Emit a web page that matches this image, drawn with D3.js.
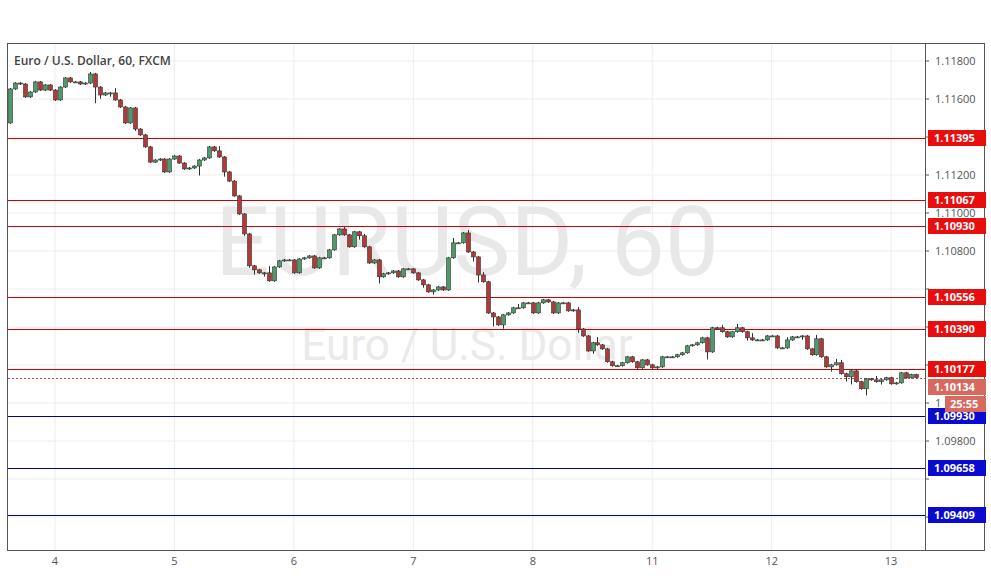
<!DOCTYPE html>
<html><head><meta charset="utf-8">
<script src="https://cdn.jsdelivr.net/npm/d3@7"></script>
<style>body{margin:0;background:#fff}svg{display:block;font-family:"Open Sans",Arial,sans-serif}</style>
</head><body>
<script>
const closes = [
1.11653,1.11684,1.11679,1.11611,1.11637,1.11690,1.11647,1.11674,1.11647,1.11595,
1.11663,1.11711,1.11690,1.11690,1.11679,1.11684,1.11732,1.11663,1.11621,1.11632,
1.11632,1.11595,1.11558,1.11474,1.11553,1.11442,1.11411,1.11348,1.11268,1.11279,
1.11284,1.11216,1.11284,1.11300,1.11263,1.11232,1.11237,1.11247,1.11279,1.11290,
1.11348,1.11327,1.11295,1.11216,1.11168,1.11090,1.10995,1.10890,1.10722,1.10701,
1.10685,1.10685,1.10643,1.10716,1.10748,1.10753,1.10753,1.10685,1.10758,
1.10764,1.10774,1.10711,1.10764,1.10764,1.10806,1.10885,1.10916,1.10885,1.10822,
1.10901,1.10880,1.10822,1.10737,1.10753,1.10664,1.10680,1.10685,1.10695,1.10664,
1.10706,1.10706,1.10685,1.10648,1.10622,1.10585,1.10595,1.10611,1.10595,1.10764,
1.10843,1.10843,1.10895,1.10795,1.10769,1.10674,1.10638,1.10474,1.10453,1.10411,
1.10464,1.10474,1.10501,1.10501,1.10527,1.10527,1.10474,1.10527,1.10543,1.10532,
1.10474,1.10527,1.10527,1.10485,1.10490,1.10390,1.10353,1.10274,1.10317,1.10306,
1.10285,1.10217,1.10196,1.10196,1.10212,1.10243,1.10217,1.10185,1.10227,1.10201,
1.10185,1.10190,1.10243,1.10243,1.10243,1.10254,1.10264,1.10301,1.10306,1.10317,
1.10343,1.10269,1.10396,1.10396,1.10375,1.10348,1.10375,1.10396,1.10375,1.10343,
1.10332,1.10332,1.10332,1.10353,1.10353,1.10290,1.10290,1.10332,1.10348,1.10348,
1.10353,1.10285,1.10254,1.10338,1.10243,1.10190,1.10201,1.10212,1.10154,1.10138,
1.10169,1.10112,1.10075,1.10127,1.10122,1.10112,1.10122,1.10133,1.10101,1.10106,
1.10159,1.10133,1.10149,1.10134];
const firstOpen = 1.11474;
const wickHiPips = [
1,1,1,1,1,1,1,1,1,1, 1,1,1,1,1,1,2,1,1,1, 1,5,1,1,1,1,1,1,1,1, 1,1,1,1,1,1,1,1,1,1,
1,1,5,1,1,1,1,1,1,1, 1,1,7,1,1,1,1,1,1,1, 1,1,1,1,1,1,1,2,1,1, 1,2,1,1,1,1,1,1,1,1,
1,1,1,1,1,1,1,1,1,5, 1,1,3,1,1,3,1,1,1,1, 1,1,4,1,1,1,1,1,1,1, 1,1,1,1,3,1,1,1,6,1,
1,1,1,1,1,1,1,1,1,1, 1,1,1,1,1,1,1,1,1,1, 1,1,1,3,1,1,4,1,1,5, 1,1,1,1,1,1,3,1,1,1,
1,1,4,1,1,1,4,3,1,1, 1,1,1,1,4,1,1,1,1,1, 1,1,1,1];
const wickLoPips = [
1,1,1,1,1,1,1,1,1,1, 1,1,1,1,1,1,1,17,4,1, 4,1,1,1,1,2,1,1,1,1, 1,1,1,1,1,1,1,1,10,1,
1,1,1,5,1,1,1,2,2,5, 1,4,1,1,1,1,1,1,1,1, 1,1,1,1,1,1,1,1,1,1, 4,1,1,1,7,1,1,1,1,1,
1,1,1,3,1,3,1,1,1,1, 1,1,1,5,8,1,1,10,1,4, 1,1,1,1,1,1,1,1,1,1, 1,1,1,1,4,1,1,3,1,1,
1,1,1,1,1,1,1,1,1,1, 1,1,1,1,1,1,1,1,1,1, 8,1,1,1,1,1,1,1,3,1, 1,1,1,1,1,1,1,1,1,3,
1,1,1,1,1,5,1,1,5,8, 1,1,7,1,1,3,1,1,1,1, 1,1,1,1];
const dayLabels = ["4","5","6","7","8","11","12","13"];
const dayStartIdx = [9,33,57,81,105,129,153,177];
const priceTicks = [1.118,1.116,1.114,1.112,1.110,1.108,1.106,1.104,1.102,1.100,1.098,1.096,1.094];
const resistance = [1.11395,1.11067,1.10930,1.10556,1.10390,1.10177];
const support = [1.09930,1.09658,1.09409];
const lastPrice = 1.10134, countdown = "25:55";
const title = "Euro / U.S. Dollar, 60, FXCM";

const W=991,H=588, L=8, R=925, T=44, B=550;
const svg=d3.select("body").append("svg").attr("width",W).attr("height",H);
const y=d3.scaleLinear().domain([1.118-(B-61)/19000, 1.118+(61-T)/19000]).range([B,T]);
const x=d3.scaleLinear().domain([0,183]).range([10.2,921]);
const g=svg.append("g");
g.selectAll(".hg").data(priceTicks).join("line").attr("x1",L).attr("x2",R)
 .attr("y1",d=>y(d)).attr("y2",d=>y(d)).attr("stroke","#ececec");
g.selectAll(".vg").data(dayStartIdx).join("line").attr("y1",T).attr("y2",B)
 .attr("x1",d=>x(d)).attr("x2",d=>x(d)).attr("stroke","#ececec");
g.append("text").attr("x",467).attr("y",275).attr("text-anchor","middle").attr("font-size",96)
 .attr("fill","#e8e8e8").attr("font-family","Roboto,Arial").text("EURUSD, 60");
g.append("text").attr("x",467).attr("y",360).attr("text-anchor","middle").attr("font-size",44)
 .attr("fill","#eaeaea").attr("font-family","Roboto,Arial").text("Euro / U.S. Dollar");
g.selectAll(".rl").data(resistance).join("line").attr("x1",L).attr("x2",R)
 .attr("y1",d=>Math.round(y(d))+0.5).attr("y2",d=>Math.round(y(d))+0.5).attr("stroke","#d00000").attr("stroke-width",1.2);
g.selectAll(".sl").data(support).join("line").attr("x1",L).attr("x2",R)
 .attr("y1",d=>Math.round(y(d))+0.5).attr("y2",d=>Math.round(y(d))+0.5).attr("stroke","#0000a0").attr("stroke-width",1.2);
g.append("line").attr("x1",L).attr("x2",R).attr("y1",Math.round(y(lastPrice))+0.5).attr("y2",Math.round(y(lastPrice))+0.5)
 .attr("stroke","#d04040").attr("stroke-dasharray","2,2");
const candles=closes.map((c,i)=>{const o=i?closes[i-1]:firstOpen;
 return {i,o,c,h:Math.max(o,c)+wickHiPips[i]*0.0001*0.5,l:Math.min(o,c)-wickLoPips[i]*0.0001*0.5};});
const cg=g.selectAll(".c").data(candles).join("g");
cg.append("line").attr("x1",d=>Math.round(x(d.i))+0.5).attr("x2",d=>Math.round(x(d.i))+0.5)
 .attr("y1",d=>y(d.h)).attr("y2",d=>y(d.l)).attr("stroke","#333");
cg.append("rect").attr("x",d=>Math.round(x(d.i))-1.5).attr("width",4)
 .attr("y",d=>y(Math.max(d.o,d.c))).attr("height",d=>Math.max(1,Math.abs(y(d.o)-y(d.c))))
 .attr("fill",d=>d.c>=d.o?"#4f9a6a":"#b03a3a").attr("stroke","#333").attr("stroke-width",0.6);
svg.append("rect").attr("x",L-0.5).attr("y",T-0.5).attr("width",985-L).attr("height",B-T+1).attr("fill","none").attr("stroke","#555");
svg.append("line").attr("x1",R+0.5).attr("x2",R+0.5).attr("y1",T).attr("y2",B).attr("stroke","#555");
svg.append("line").attr("x1",L).attr("x2",985).attr("y1",B+0.5).attr("y2",B+0.5).attr("stroke","#555");
svg.append("text").attr("x",14).attr("y",65).attr("font-size",12).attr("font-weight",600).attr("fill","#444").text(title);
// right axis: labels hidden behind price boxes are skipped
const boxYs=[...resistance,...support].map(p=>y(p)).concat([y(lastPrice)+9]);
const ax=svg.append("g").attr("transform",`translate(${R},0)`);
ax.selectAll("line").data(priceTicks).join("line").attr("x1",0).attr("x2",4).attr("y1",d=>y(d)).attr("y2",d=>y(d)).attr("stroke","#555");
const visTicks=priceTicks.filter(d=>boxYs.every(b=>Math.abs(b-y(d))>=12));
ax.selectAll("text").data(visTicks).join("text").attr("x",10).attr("y",d=>y(d)+4).attr("font-size",11).attr("fill","#555")
 .text(d=>Math.abs(y(d)-(y(lastPrice)+26))<10?"1":d.toFixed(5));
svg.selectAll(".dl").data(dayLabels).join("text").attr("x",(d,i)=>x(dayStartIdx[i])).attr("y",565)
 .attr("text-anchor","middle").attr("font-size",11).attr("fill","#555").text(d=>d);
function box(p,fill,txt,yo){const yy=Math.round(y(p))+(yo||0);
 svg.append("rect").attr("x",R+3).attr("y",yy-8).attr("width",58).attr("height",16).attr("fill",fill);
 svg.append("text").attr("x",R+9).attr("y",yy+4).attr("font-size",11).attr("font-weight",700).attr("fill","#fff").text(txt);}
resistance.forEach(p=>box(p,"#e80e0e",p.toFixed(5)));
support.forEach(p=>box(p,"#0a0ad0",p.toFixed(5)));
box(lastPrice,"#d8695f",lastPrice.toFixed(5),9);
svg.append("rect").attr("x",R+20).attr("y",Math.round(y(lastPrice))+18).attr("width",41).attr("height",16).attr("fill","#d8695f");
svg.append("text").attr("x",R+25).attr("y",Math.round(y(lastPrice))+30).attr("font-size",11).attr("font-weight",700).attr("fill","#fff").text(countdown);
</script>
</body></html>
